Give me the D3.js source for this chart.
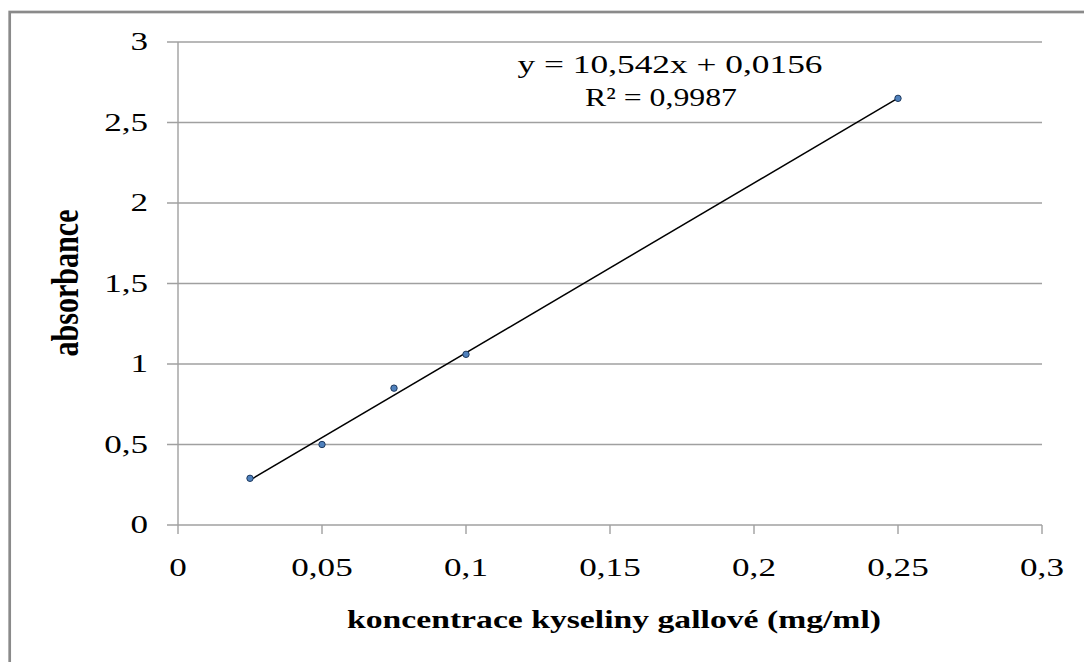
<!DOCTYPE html>
<html>
<head>
<meta charset="utf-8">
<script src="https://cdn.jsdelivr.net/npm/d3@7"></script>
<style>
  body { margin: 0; background: #fff; }
</style>
</head>
<body>
<script>
var width = 1084;
var height = 662;

// data
var concentration = [0.025, 0.05, 0.075, 0.1, 0.25];
var absorbance = [0.29, 0.5, 0.85, 1.06, 2.65];
var xTicks = [0, 0.05, 0.1, 0.15, 0.2, 0.25, 0.3];
var yTicks = [0, 0.5, 1, 1.5, 2, 2.5, 3];
var slope = 10.542;
var intercept = 0.0156;
var eqLines = ["y = 10,542x + 0,0156", "R² = 0,9987"];
var eqWidths = [305, 152];

var serif = '"Liberation Serif", "Times New Roman", "DejaVu Serif", serif';

var svg = d3.select('body').append('svg')
  .attr('width', width).attr('height', height)
  .attr('font-family', serif);

// outer chart frame (runs past the right/bottom edge)
svg.append('rect')
  .attr('x', 9.7).attr('y', 12)
  .attr('width', 1100).attr('height', 700)
  .attr('fill', 'none').attr('stroke', '#8a8a8a').attr('stroke-width', 2.7);

var x = d3.scaleLinear().domain([0, 0.3]).range([178, 1042]);
var y = d3.scaleLinear().domain([0, 3]).range([525, 42]);

var fmt = function(d){ return String(d).replace('.', ','); };

// horizontal gridlines with outward tick stubs
svg.append('g').selectAll('line')
  .data(yTicks)
  .enter().append('line')
  .attr('x1', 167).attr('x2', 1042)
  .attr('y1', function(d){ return y(d); })
  .attr('y2', function(d){ return y(d); })
  .attr('stroke', '#a0a0a0').attr('stroke-width', 1.4);

// y axis line
svg.append('line')
  .attr('x1', 178).attr('x2', 178).attr('y1', 42).attr('y2', 525)
  .attr('stroke', '#a0a0a0').attr('stroke-width', 1.4);

// x ticks
svg.append('g').selectAll('line')
  .data(xTicks)
  .enter().append('line')
  .attr('x1', function(d){ return x(d); })
  .attr('x2', function(d){ return x(d); })
  .attr('y1', 525).attr('y2', 534)
  .attr('stroke', '#a0a0a0').attr('stroke-width', 1.4);

// tick labels (the picture is stretched sideways, so scale glyphs in x)
svg.append('g').selectAll('text')
  .data(yTicks)
  .enter().append('text')
  .attr('transform', function(d){ return 'translate(148,' + (y(d) + 8) + ') scale(1.35,1)'; })
  .attr('text-anchor', 'end')
  .attr('font-size', 26)
  .text(fmt);

svg.append('g').selectAll('text')
  .data(xTicks)
  .enter().append('text')
  .attr('transform', function(d){ return 'translate(' + x(d) + ',576) scale(1.35,1)'; })
  .attr('text-anchor', 'middle')
  .attr('font-size', 26)
  .text(fmt);

// trendline
svg.append('line')
  .attr('x1', x(concentration[0]))
  .attr('y1', y(slope * concentration[0] + intercept))
  .attr('x2', x(concentration[concentration.length - 1]))
  .attr('y2', y(slope * concentration[concentration.length - 1] + intercept))
  .attr('stroke', '#000').attr('stroke-width', 1.5);

// points
svg.append('g').selectAll('circle')
  .data(concentration)
  .enter().append('circle')
  .attr('cx', function(d){ return x(d); })
  .attr('cy', function(d, i){ return y(absorbance[i]); })
  .attr('r', 3.2)
  .attr('fill', '#4f81bd')
  .attr('stroke', '#1f3a5f')
  .attr('stroke-width', 1);

// equation
svg.append('g').selectAll('text')
  .data(eqLines)
  .enter().append('text')
  .attr('x', function(d, i){ return i === 0 ? 670 : 661; })
  .attr('y', function(d, i){ return i === 0 ? 73 : 106; })
  .attr('text-anchor', 'middle')
  .attr('font-size', 26)
  .attr('textLength', function(d, i){ return eqWidths[i]; })
  .attr('lengthAdjust', 'spacingAndGlyphs')
  .text(function(d){ return d; });

// axis titles
svg.append('text')
  .attr('x', 347).attr('y', 628)
  .attr('font-size', 26).attr('font-weight', 'bold')
  .attr('textLength', 534)
  .attr('lengthAdjust', 'spacingAndGlyphs')
  .text('koncentrace kyseliny gallové (mg/ml)');

svg.append('text')
  .attr('transform', 'translate(78,283) scale(1.25,1) rotate(-90)')
  .attr('text-anchor', 'middle')
  .attr('font-size', 30).attr('font-weight', 'bold')
  .attr('textLength', 147)
  .attr('lengthAdjust', 'spacingAndGlyphs')
  .text('absorbance');
</script>
</body>
</html>
